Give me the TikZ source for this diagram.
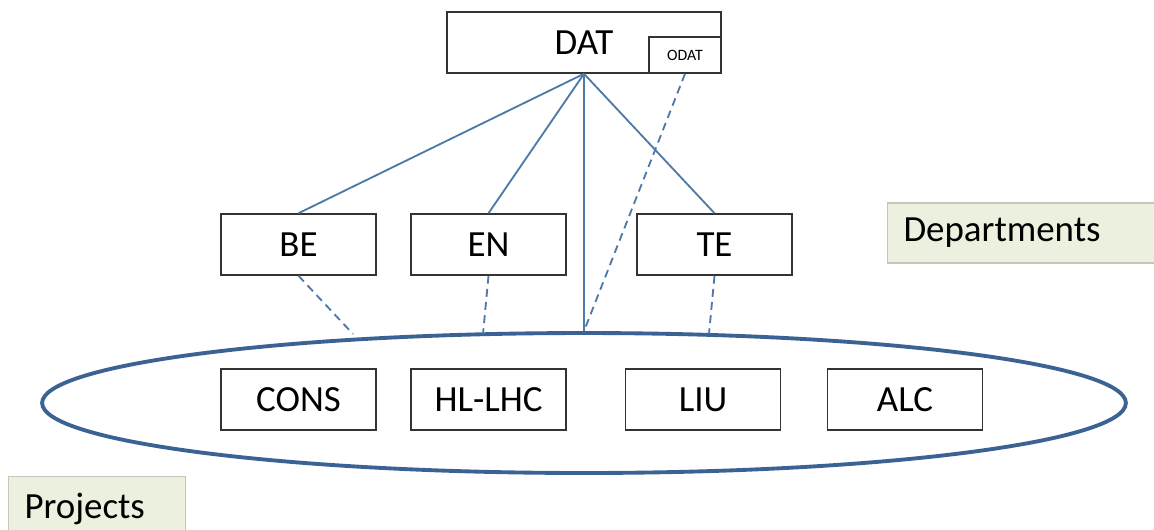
\documentclass[tikz,border=0pt]{standalone}
\usepackage{fontspec}
\setmainfont{Carlito}
\usetikzlibrary{shapes.geometric}
\definecolor{linkblue}{HTML}{4F79A8}
\definecolor{ringblue}{HTML}{3A6394}
\definecolor{tagfill}{HTML}{EBF1DE}
\definecolor{tagedge}{HTML}{C4C8BC}
\tikzset{
  unitbox/.style={draw=black!80,line width=0.9pt,fill=white,inner sep=0pt,
    minimum width=3.1cm,minimum height=1.22cm,font=\fontsize{21}{25}\selectfont},
  tagbox/.style={draw=tagedge,line width=0.6pt,fill=tagfill,inner xsep=0.32cm,
    inner ysep=0pt,align=left,font=\fontsize{21}{25}\selectfont},
  tie/.style={linkblue,line width=1.05pt},
  dashtie/.style={linkblue,line width=1.05pt,dash pattern=on 4.5pt off 3pt}
}
\begin{document}
\begin{tikzpicture}[x=0.02cm,y=-0.02cm]
\useasboundingbox (0,0) rectangle (1154,529);
% project ring
\node[draw=ringblue,line width=2.2pt,ellipse,inner sep=0pt,
  minimum width=21.68cm,minimum height=2.8cm] (ring) at (584,403) {};
% top unit
\node[unitbox,minimum width=5.48cm] (dat) at (584,42.5) {\raisebox{-2pt}{DAT}};
\node[unitbox,minimum width=1.44cm,minimum height=0.72cm,
  font=\fontsize{9}{11}\selectfont] (odat) at (685,55) {ODAT};
% departments
\node[unitbox] (be) at (298.5,244.5) {BE};
\node[unitbox] (en) at (488.5,244.5) {EN};
\node[unitbox] (te) at (714.5,244.5) {TE};
% projects
\node[unitbox] (cons) at (298.5,399.5) {CONS};
\node[unitbox] (hllhc) at (488.5,399.5) {HL-LHC};
\node[unitbox] (liu) at (703,399.5) {LIU};
\node[unitbox] (alc) at (905,399.5) {ALC};
% legends
\node[tagbox,anchor=west,text width=5.2cm,minimum height=1.2cm] (deptag) at (887,233) {Departments};
\node[tagbox,anchor=north west,text width=2.9cm,minimum height=1.28cm] (projtag) at (8,476) {Projects};
% ends on the ring
\coordinate (beend) at (353,334);
\coordinate (enend) at (483,334);
\coordinate (teend) at (709,334);
% links
\draw[tie] (dat.south) -- (be.north);
\draw[tie] (dat.south) -- (en.north);
\draw[tie] (dat.south) -- (te.north);
\draw[tie] (dat.south) -- (ring.north);
\draw[dashtie] (odat.south) -- (ring.north);
\draw[dashtie] (be.south) -- (beend);
\draw[dashtie] (en.south) -- (enend);
\draw[dashtie] (te.south) -- (teend);
\end{tikzpicture}
\end{document}
